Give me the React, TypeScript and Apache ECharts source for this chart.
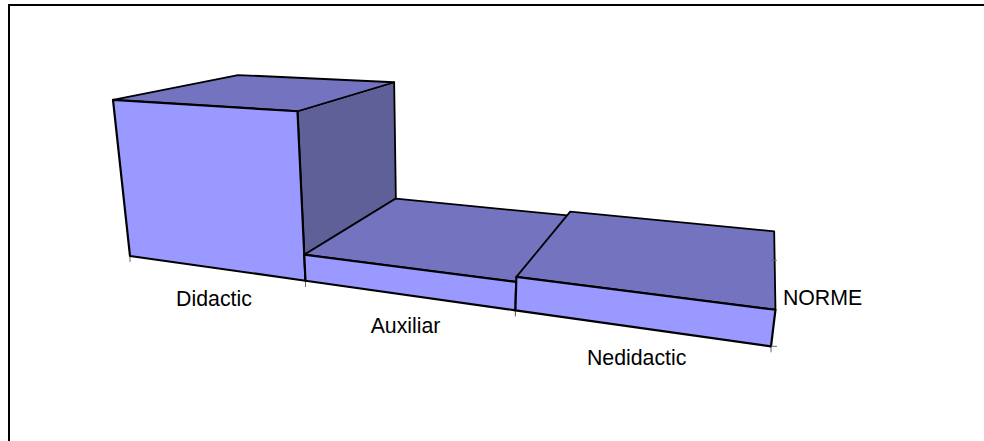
import React, { useEffect, useRef } from "react";
import * as echarts from "echarts";

const categories = ["Didactic", "Auxiliar", "Nedidactic"];
const values = [39, 6.3, 7.4];
const seriesName = "NORME";

const frontColor = "#9999ff";
const topColor = "#7373bf";
const sideColor = "#606099";

// Perspective camera: homogeneous projection of (category, value, depth) to the view plane.
const cameraU = [150.45, -0.5874, 171.46, 130];
const cameraV = [1.7, -4.138, -6.8, 256];
const cameraW = [-0.082, -0.001341, 0.2227, 1];

const project = (x: number, y: number, z: number): number[] => {
  const dot = (m: number[]) => m[0] * x + m[1] * y + m[2] * z + m[3];
  const w = dot(cameraW);
  return [dot(cameraU) / w, dot(cameraV) / w];
};

export default function App() {
  const ref = useRef<HTMLDivElement>(null);
  useEffect(() => {
    const chart = echarts.init(ref.current!, undefined, { renderer: "svg" });
    const renderItem = (_: any, api: any) => {
      const i = api.value(0) as number;
      const v = api.value(1) as number;
      const next = i + 1 < values.length ? values[i + 1] : v;
      const pt = (x: number, y: number, z: number) => api.coord(project(x, y, z));
      const face = (points: number[][], fill: string, lineWidth: number) => ({
        type: "polygon",
        shape: { points },
        style: { fill, stroke: "#000", lineWidth, lineJoin: "round" },
      });
      const tick = (a: number[], dx: number, dy: number) => ({
        type: "line",
        shape: { x1: a[0], y1: a[1], x2: a[0] + dx, y2: a[1] + dy },
        style: { stroke: "#666", lineWidth: 1 },
      });
      const children: any[] = [];
      const g0 = pt(i, 0, 0);
      const g1 = pt(i + 1, 0, 0);
      children.push(tick(g0, 0, 6), tick(g1, 0, 6));
      if (next < v) {
        children.push(
          face([pt(i + 1, next, 0), pt(i + 1, v, 0), pt(i + 1, v, 1), pt(i + 1, next, 1)], sideColor, 1.8),
        );
      }
      children.push(face([pt(i, v, 0), pt(i + 1, v, 0), pt(i + 1, v, 1), pt(i, v, 1)], topColor, 1.8));
      children.push(face([g0, g1, pt(i + 1, v, 0), pt(i, v, 0)], frontColor, 2.2));
      const mid = pt(i + 0.5, 0, 0);
      children.push({
        type: "text",
        x: mid[0],
        y: mid[1] + 31,
        style: {
          text: categories[i],
          fontFamily: "Liberation Sans",
          fontSize: 21.3,
          fill: "#000",
          align: "center",
          verticalAlign: "middle",
        },
      });
      if (i === values.length - 1) {
        const back = pt(i + 1, 0, 1);
        const seriesMid = pt(i + 1, 0, 0.5);
        children.push(tick(g1, 6, 0), tick(back, 6, 0));
        children.push({
          type: "text",
          x: seriesMid[0] + 12,
          y: seriesMid[1],
          style: {
            text: seriesName,
            fontFamily: "Liberation Sans",
            fontSize: 21.3,
            fill: "#000",
            align: "left",
            verticalAlign: "middle",
          },
        });
      }
      return { type: "group", children };
    };
    chart.setOption({
      animation: false,
      backgroundColor: "#fff",
      grid: { left: 0, right: 0, top: 0, bottom: 0 },
      xAxis: { type: "value", min: 0, max: 984, show: false },
      yAxis: { type: "value", min: 0, max: 441, inverse: true, show: false },
      graphic: [
        { type: "line", shape: { x1: 9, y1: 4, x2: 9, y2: 441 }, style: { stroke: "#000", lineWidth: 2 } },
        { type: "line", shape: { x1: 8, y1: 5, x2: 984, y2: 5 }, style: { stroke: "#000", lineWidth: 2 } },
      ],
      series: [
        {
          type: "custom",
          name: seriesName,
          clip: false,
          renderItem,
          encode: { x: 0, y: 1 },
          data: values.map((v, i) => [i, v]),
        },
      ],
    });
    return () => chart.dispose();
  }, []);
  return <div ref={ref} style={{ position: "fixed", left: 0, top: 0, width: 984, height: 441 }} />;
}
